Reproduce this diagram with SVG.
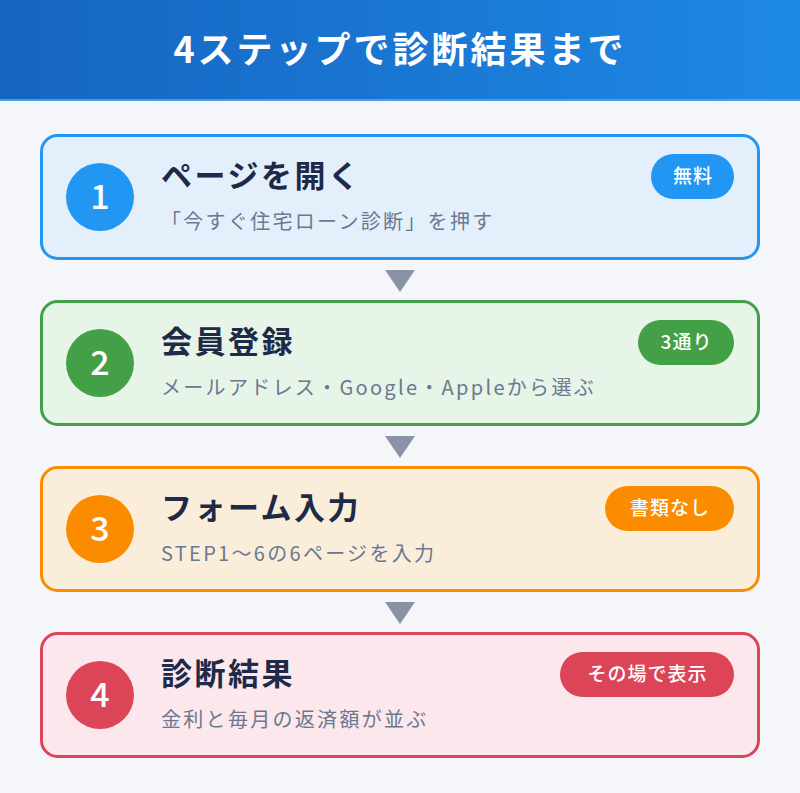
<svg xmlns="http://www.w3.org/2000/svg" width="800" height="793" viewBox="0 0 800 793">
<defs>
<linearGradient id="hdr" x1="0" y1="0" x2="1" y2="0">
<stop offset="0" stop-color="#1565C0"/>
<stop offset="1" stop-color="#1E88E5"/>
</linearGradient>
<style>
text{font-family:"Noto Sans CJK JP","Noto Sans",sans-serif}
.title{font-size:31px;font-weight:700;fill:#1E2A47;letter-spacing:2.5px}
.sub{font-size:20px;fill:#6B7890;letter-spacing:2.3px}
.num{font-size:34px;font-weight:500;fill:#fff;text-anchor:middle}
.badge{font-size:19px;font-weight:500;fill:#fff;text-anchor:middle;letter-spacing:1px}
.card{stroke-width:3}
.arr{fill:#8A93A6}
</style>
</defs>
<rect width="800" height="793" fill="#F4F6FA"/>
<rect width="800" height="100" fill="url(#hdr)"/>
<rect y="99" width="800" height="2" fill="#4A9BE8"/>
<text x="400" y="63" font-size="36" font-weight="700" fill="#fff" text-anchor="middle" letter-spacing="3">4ステップで診断結果まで</text>

<g id="connectors">
<polygon class="arr" points="385,270 415,270 400,292"/>
<polygon class="arr" points="385,436 415,436 400,458"/>
<polygon class="arr" points="385,602 415,602 400,624"/>
</g>

<g id="step1">
<rect class="card" x="41.5" y="135.5" width="717" height="123" rx="16" fill="#E3F0FC" stroke="#2196F3"/>
<circle cx="100" cy="197" r="34" fill="#2196F3"/>
<text class="num" x="100" y="209">1</text>
<text class="title" x="161" y="187">ページを開く</text>
<text class="sub" x="161" y="229">「今すぐ住宅ローン診断」を押す</text>
<rect x="651" y="154" width="83" height="45" rx="22.5" fill="#2196F3"/>
<text class="badge" x="693" y="183">無料</text>
</g>

<g id="step2">
<rect class="card" x="41.5" y="301.5" width="717" height="123" rx="16" fill="#E7F4E8" stroke="#43A047"/>
<circle cx="100" cy="363" r="34" fill="#43A047"/>
<text class="num" x="100" y="375">2</text>
<text class="title" x="161" y="353">会員登録</text>
<text class="sub" x="161" y="395" letter-spacing="1.9">メールアドレス・Google・Appleから選ぶ</text>
<rect x="638" y="320" width="96" height="45" rx="22.5" fill="#43A047"/>
<text class="badge" x="686.5" y="349">3通り</text>
</g>

<g id="step3">
<rect class="card" x="41.5" y="467.5" width="717" height="123" rx="16" fill="#FAEEDB" stroke="#FB8C00"/>
<circle cx="100" cy="529" r="34" fill="#FB8C00"/>
<text class="num" x="100" y="541">3</text>
<text class="title" x="161" y="519">フォーム入力</text>
<text class="sub" x="161" y="561">STEP1〜6の6ページを入力</text>
<rect x="605" y="486" width="129" height="45" rx="22.5" fill="#FB8C00"/>
<text class="badge" x="670" y="515">書類なし</text>
</g>

<g id="step4">
<rect class="card" x="41.5" y="633.5" width="717" height="123" rx="16" fill="#FCE8EC" stroke="#DC4558"/>
<circle cx="100" cy="695" r="34" fill="#DC4558"/>
<text class="num" x="100" y="707">4</text>
<text class="title" x="161" y="685">診断結果</text>
<text class="sub" x="161" y="727">金利と毎月の返済額が並ぶ</text>
<rect x="560" y="652" width="174" height="45" rx="22.5" fill="#DC4558"/>
<text class="badge" x="647.5" y="681">その場で表示</text>
</g>
</svg>
